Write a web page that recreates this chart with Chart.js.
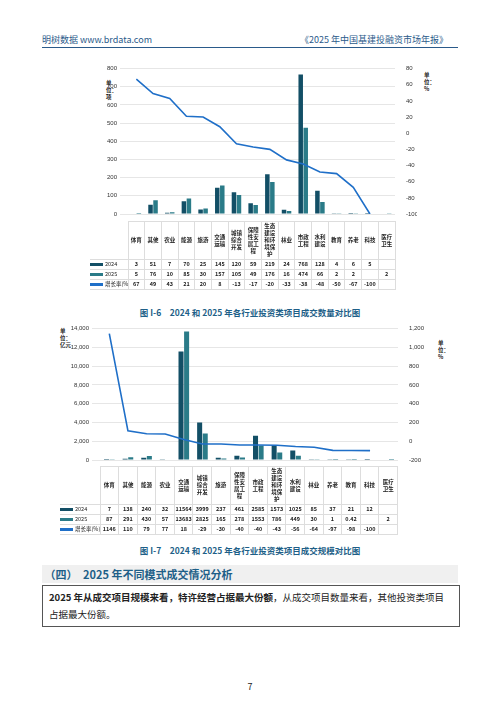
<!DOCTYPE html>
<html><head><meta charset="utf-8">
<script src="https://cdn.jsdelivr.net/npm/chart.js@4"></script>
<style>
body{margin:0;width:500px;height:707px;background:#fff;font-family:"Noto Sans CJK SC",serif;position:relative;overflow:hidden;color:#222}
.abs{position:absolute}
table{border-collapse:collapse;font-size:5.5px;table-layout:fixed}
td{border:1px solid #ddd;text-align:center;padding:1px 2px;line-height:7px;word-break:break-all;font-weight:bold;white-space:normal}
td.lab{text-align:left;white-space:nowrap;font-weight:normal;border-left:none;padding:1px 0;overflow:hidden}
.sw{display:inline-block;width:13px;height:3px;vertical-align:middle;margin-right:2px}
.cap{font-size:8.5px;color:#1e5f88;font-weight:bold;width:500px;text-align:center}
</style></head><body>
<div class="abs" style="left:42px;top:33px;font-size:9px;color:#2a5a8a">明树数据 www.brdata.com</div>
<div class="abs" style="left:300px;top:33px;font-size:9px;color:#2a5a8a">《2025 年中国基建投融资市场年报》</div>
<div class="abs" style="left:42px;top:47px;width:416px;border-top:1px solid #2a5a8a"></div>

<div class="abs" style="left:106px;top:80px;font-size:5.5px;width:12px;line-height:7px;font-weight:bold">单位：项</div>
<div class="abs" style="left:424px;top:72px;font-size:5.5px;width:10px;line-height:7px;font-weight:bold">单位：%</div>
<div class="abs" style="left:90px;top:62px;width:327px;height:160px"><canvas id="c1"></canvas></div>
<div class="abs" style="left:90px;top:221px" id="t1"></div>
<div class="abs cap" style="left:0;top:306px">图 I-6　2024 和 2025 年各行业投资类项目成交数量对比图</div>

<div class="abs" style="left:60px;top:328px;font-size:5.5px;width:12px;line-height:7px;font-weight:bold">单位：亿元</div>
<div class="abs" style="left:438px;top:340px;font-size:5.5px;width:10px;line-height:7px;font-weight:bold">单位：%</div>
<div class="abs" style="left:60px;top:322px;width:376px;height:146px"><canvas id="c2"></canvas></div>
<div class="abs" style="left:60px;top:466px" id="t2"></div>
<div class="abs cap" style="left:0;top:544px">图 I-7　2024 和 2025 年各行业投资类项目成交规模对比图</div>

<div class="abs" style="left:42px;top:565px;width:416px;height:18px;background:#f0f0f0;font-size:11px;color:#1e5f88;line-height:18px;font-weight:bold">&nbsp;（四）　2025 年不同模式成交情况分析</div>
<div class="abs" style="left:42px;top:585px;width:404px;border:1px solid #555;padding:3px 6px;font-size:9.5px;line-height:17px"><b>2025 年从成交项目规模来看，特许经营占据最大份额</b>，从成交项目数量来看，其他投资类项目占据最大份额。</div>
<div class="abs" style="left:0;top:680px;width:500px;text-align:center;font-size:9px">7</div>

<script>
const cats1 = ['体育','其他','农业','能源','旅游','交通运输','城镇综合开发','保障性安居工程','生态建设和环境保护','林业','市政工程','水利建设','教育','养老','科技','医疗卫生'];
const y2024a = [3,51,7,70,25,145,120,59,219,24,768,128,4,6,5,null];
const y2025a = [5,76,10,85,30,157,105,49,176,16,474,66,2,2,null,2];
const growthA = [67,49,43,21,20,8,-13,-17,-20,-33,-38,-48,-50,-67,-100,null];

const cats2 = ['体育','其他','能源','农业','交通运输','城镇综合开发','旅游','保障性安居工程','市政工程','生态建设和环境保护','水利建设','林业','养老','教育','科技','医疗卫生'];
const y2024b = [7,138,240,32,11564,3999,237,461,2585,1573,1025,85,37,21,12,null];
const y2025b = [87,291,430,57,13683,2825,165,278,1553,786,449,30,1,0.42,null,2];
const growthB = [1146,110,79,77,18,-29,-30,-40,-40,-43,-56,-64,-97,-98,-100,null];

const C24 = '#134f66', C25 = '#2a7b88', CL = '#1f6fc8';

function makeChart(id, cats, a, b, g, lmax, lstep, rmin, rmax, rstep, lw, rw) {
    new Chart(document.getElementById(id), {
        type: 'bar',
        data: {
            labels: cats,
            datasets: [
                { type: 'line', data: g, yAxisID: 'yR', borderColor: CL, backgroundColor: CL, borderWidth: 1.6, pointRadius: 0, fill: false, order: 0 },
                { data: a, yAxisID: 'yL', backgroundColor: C24, categoryPercentage: 0.6, barPercentage: 0.9, order: 1 },
                { data: b, yAxisID: 'yL', backgroundColor: C25, categoryPercentage: 0.6, barPercentage: 0.9, order: 1 }
            ]
        },
        options: {
            responsive: true, maintainAspectRatio: false, animation: false,
            layout: { padding: { top: 6, bottom: 0 } },
            plugins: { legend: { display: false }, tooltip: { enabled: false } },
            scales: {
                x: { ticks: { display: false }, grid: { display: false }, border: { display: false } },
                yL: { type: 'linear', position: 'left', min: 0, max: lmax, ticks: { stepSize: lstep, font: { size: 6 }, color: '#333' },
                     grid: { color: '#e6e6e6' }, border: { display: false }, afterFit: s => { s.width = lw; } },
                yR: { type: 'linear', position: 'right', min: rmin, max: rmax, ticks: { stepSize: rstep, font: { size: 6 }, color: '#333' },
                     grid: { display: false }, border: { display: false }, afterFit: s => { s.width = rw; } }
            }
        }
    });
}
makeChart('c1', cats1, y2024a, y2025a, growthA, 800, 100, -100, 80, 20, 38, 22);
makeChart('c2', cats2, y2024b, y2025b, growthB, 14000, 2000, -200, 1200, 200, 40, 38);

function makeTable(id, cats, a, b, g, labW, colW) {
    const fmt = v => v === null ? '' : v;
    let h = '<table style="width:' + (labW + colW * cats.length) + 'px"><colgroup><col style="width:' + labW + 'px">' +
        cats.map(() => '<col style="width:' + colW + 'px">').join('') + '</colgroup>' +
        '<tr><td class="lab" style="border-top:none"></td>' + cats.map(c => '<td>' + c + '</td>').join('') + '</tr>';
    const rows = [['2024', a, C24], ['2025', b, C25], ['增长率(%)', g, CL]];
    rows.forEach(r => {
        h += '<tr><td class="lab"><span class="sw" style="background:' + r[2] + '"></span>' + r[0] + '</td>' +
            r[1].map(v => '<td style="padding:1px 0">' + fmt(v) + '</td>').join('') + '</tr>';
    });
    document.getElementById(id).innerHTML = h + '</table>';
}
makeTable('t1', cats1, y2024a, y2025a, growthA, 38, 16.7);
makeTable('t2', cats2, y2024b, y2025b, growthB, 40, 18.6);
</script>
</body></html>
